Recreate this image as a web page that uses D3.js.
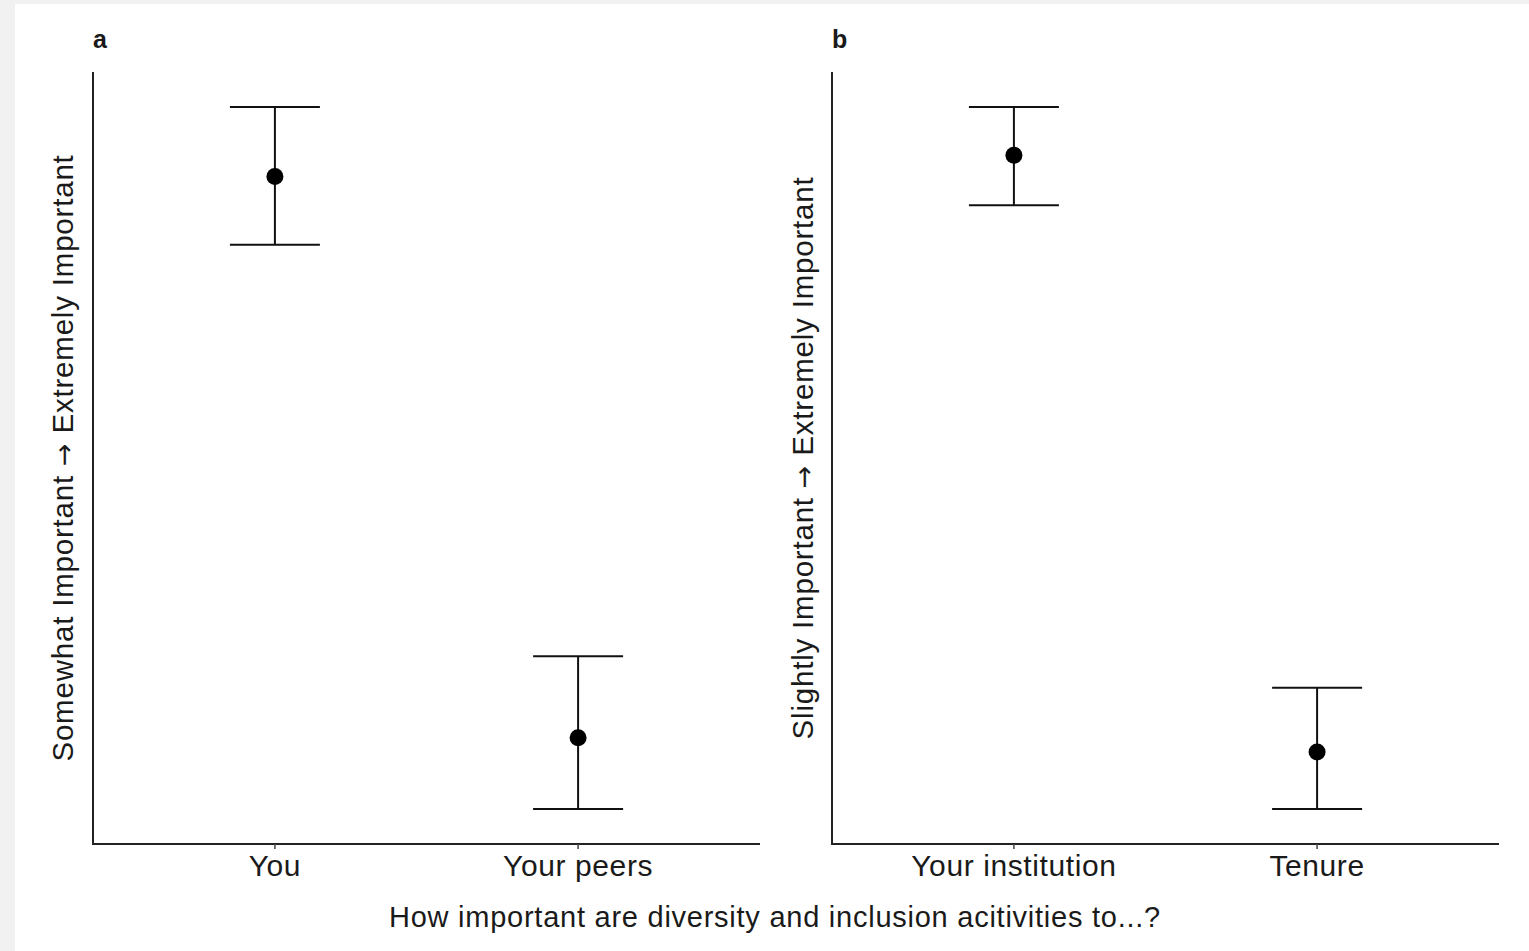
<!DOCTYPE html>
<html>
<head>
<meta charset="utf-8">
<script src="https://cdn.jsdelivr.net/npm/d3@7"></script>
<style>
  body { margin: 0; background: #f1f1f1; }
  svg { display: block; }
  text { font-family: "Liberation Sans", Arial, sans-serif; fill: #1a1a1a; }
</style>
</head>
<body>
<script>
const w = 1529;
const h = 951;

// panel a
const categoriesA = ["You", "Your peers"];
const meanA = [4.221, 3.581];
const lowA = [4.143, 3.50];
const highA = [4.30, 3.674];

// panel b
const categoriesB = ["Your institution", "Tenure"];
const meanB = [3.945, 3.265];
const lowB = [3.888, 3.20];
const highB = [4.00, 3.338];

const panelLabels = ["a", "b"];
const yTitlesLow = ["Somewhat Important", "Slightly Important"];
const yTitleHigh = "Extremely Important";
const xTitle = "How important are diversity and inclusion acitivities to...?";

const svg = d3.select("body")
  .append("svg")
  .attr("width", w)
  .attr("height", h);

svg.append("rect")
  .attr("x", 15).attr("y", 4)
  .attr("width", w - 15).attr("height", h - 4)
  .attr("fill", "#fff");

const panels = [
  { label: panelLabels[0], cats: categoriesA, mean: meanA, low: lowA, high: highA, title: yTitlesLow[0], left: 93, titleX: 73 },
  { label: panelLabels[1], cats: categoriesB, mean: meanB, low: lowB, high: highB, title: yTitlesLow[1], left: 832, titleX: 813 }
];

const plotTop = 72, plotBottom = 844, panelW = 667;

panels.forEach(p => {
  const g = svg.append("g");

  const x = d3.scalePoint()
    .domain(p.cats)
    .range([p.left, p.left + panelW])
    .padding(0.6);

  // ggplot-like 5% expansion of data range
  const lo = d3.min(p.low), hi = d3.max(p.high);
  const pad = (hi - lo) * 0.05;
  const y = d3.scaleLinear()
    .domain([lo - pad, hi + pad])
    .range([plotBottom, plotTop]);

  const rows = p.cats.map((c, i) => ({ cat: c, mean: p.mean[i], low: p.low[i], high: p.high[i] }));

  // axes lines
  g.append("line")
    .attr("x1", p.left).attr("x2", p.left)
    .attr("y1", plotTop).attr("y2", plotBottom + 1)
    .attr("stroke", "#222").attr("stroke-width", 2);
  g.append("line")
    .attr("x1", p.left - 1).attr("x2", p.left + panelW)
    .attr("y1", plotBottom).attr("y2", plotBottom)
    .attr("stroke", "#222").attr("stroke-width", 2);

  // ticks + labels
  rows.forEach(d => {
    g.append("line")
      .attr("x1", x(d.cat)).attr("x2", x(d.cat))
      .attr("y1", plotBottom).attr("y2", plotBottom + 5)
      .attr("stroke", "#444").attr("stroke-width", 1.5);
    g.append("text")
      .attr("x", x(d.cat))
      .attr("y", 876)
      .attr("text-anchor", "middle")
      .style("font-size", "30px")
      .style("letter-spacing", "0.6px")
      .text(d.cat);
  });

  // error bars
  const cap = 45;
  const bars = g.selectAll(".bar").data(rows).enter().append("g");
  bars.append("line")
    .attr("x1", d => x(d.cat)).attr("x2", d => x(d.cat))
    .attr("y1", d => y(d.low)).attr("y2", d => y(d.high))
    .attr("stroke", "#111").attr("stroke-width", 2);
  bars.append("line")
    .attr("x1", d => x(d.cat) - cap).attr("x2", d => x(d.cat) + cap)
    .attr("y1", d => y(d.high)).attr("y2", d => y(d.high))
    .attr("stroke", "#111").attr("stroke-width", 2);
  bars.append("line")
    .attr("x1", d => x(d.cat) - cap).attr("x2", d => x(d.cat) + cap)
    .attr("y1", d => y(d.low)).attr("y2", d => y(d.low))
    .attr("stroke", "#111").attr("stroke-width", 2);
  bars.append("circle")
    .attr("cx", d => x(d.cat))
    .attr("cy", d => y(d.mean))
    .attr("r", 8.5)
    .attr("fill", "#000");

  // y title, arrow from DejaVu for a wider glyph
  const yt = g.append("text")
    .attr("transform", "translate(" + p.titleX + "," + ((plotTop + plotBottom) / 2) + ") rotate(-90)")
    .attr("text-anchor", "middle")
    .style("font-size", "29.5px")
    .style("letter-spacing", "0.8px");
  yt.append("tspan").text(p.title + " ");
  yt.append("tspan").style("font-family", "'DejaVu Sans'").style("font-size", "27px").text("\u2192");
  yt.append("tspan").text(" " + yTitleHigh);

  // panel label
  g.append("text")
    .attr("x", p.left)
    .attr("y", 48)
    .style("font-size", "25px")
    .style("font-weight", "bold")
    .text(p.label);
});

svg.append("text")
  .attr("x", 775)
  .attr("y", 927)
  .attr("text-anchor", "middle")
  .style("font-size", "29px")
  .style("letter-spacing", "0.75px")
  .text(xTitle);
</script>
</body>
</html>
